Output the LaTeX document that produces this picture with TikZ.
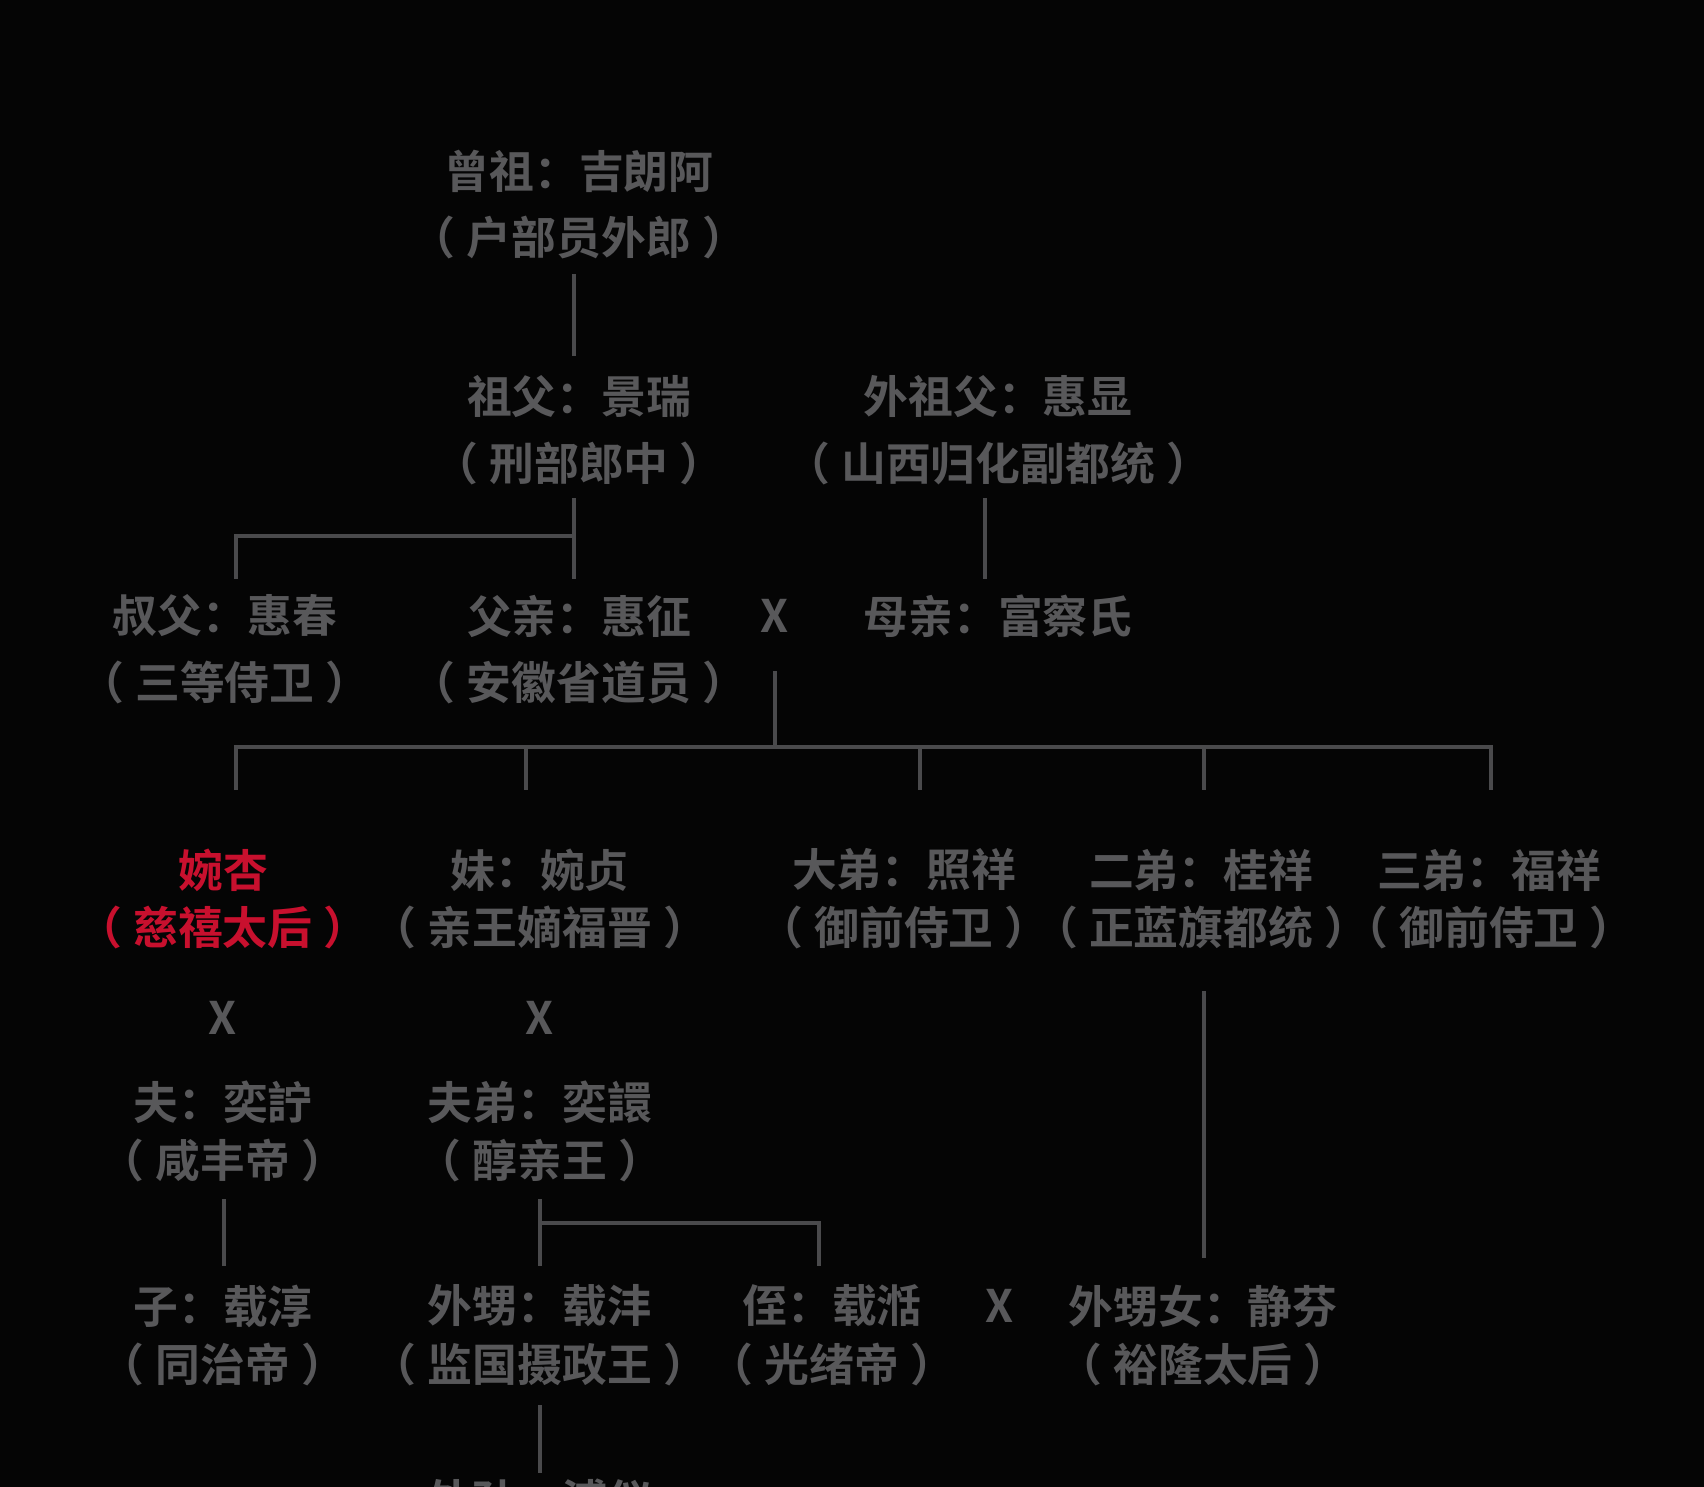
\documentclass[tikz,border=0pt]{standalone}
\usepackage{fontspec}
\setmainfont{Noto Sans CJK SC}[BoldFont={Noto Sans CJK SC Bold}]
\newfontfamily\cjk{Noto Sans CJK SC Bold}
\definecolor{bgc}{HTML}{050505}
\definecolor{txt}{HTML}{58585A}
\definecolor{ln}{HTML}{4A4A4C}
\definecolor{redc}{HTML}{C8102E}
\newcommand{\LP}{\hspace{-0.15em}（\hspace{0.25em}}
\newcommand{\RP}{\hspace{0.25em}）\hspace{-0.15em}}
\begin{document}
\begin{tikzpicture}[x=0.02cm,y=-0.02cm,
  t/.style={text=txt,font=\cjk\fontsize{25.5pt}{31pt}\selectfont,align=center,inner sep=0},
  cn/.style={draw=ln,line width=2.2pt}]
\fill[bgc] (0,0) rectangle (1704,1487);
\useasboundingbox (0,0) rectangle (1704,1487);
\clip (0,0) rectangle (1704,1487);
% rows
\node[t] (zz1) at (579,171) {曾祖：吉朗阿};
\node[t] (zz2) at (579,237) {\LP 户部员外郎\RP};
\node[t] (zf1) at (579,397) {祖父：景瑞};
\node[t] (zf2) at (579,463) {\LP 刑部郎中\RP};
\node[t] (wz1) at (998,397) {外祖父：惠显};
\node[t] (wz2) at (998,463) {\LP 山西归化副都统\RP};
\node[t] (sf1) at (225,616) {叔父：惠春};
\node[t] (sf2) at (225,682) {\LP 三等侍卫\RP};
\node[t] (fq1) at (579,616) {父亲：惠征};
\node[t] (fq2) at (579,682) {\LP 安徽省道员\RP};
\node[t] (x1) at (775,616) {X};
\node[t] (mq) at (998,616) {母亲：富察氏};
\node[t,text=redc] (wx1) at (223,870) {婉杏};
\node[t,text=redc] (wx2) at (223,927) {\LP 慈禧太后\RP};
\node[t] (m1) at (540,870) {妹：婉贞};
\node[t] (m2) at (540,927) {\LP 亲王嫡福晋\RP};
\node[t] (d11) at (904,870) {大弟：照祥};
\node[t] (d12) at (904,927) {\LP 御前侍卫\RP};
\node[t] (d21) at (1201,870) {二弟：桂祥};
\node[t] (d22) at (1201,927) {\LP 正蓝旗都统\RP};
\node[t] (d31) at (1489,870) {三弟：福祥};
\node[t] (d32) at (1489,927) {\LP 御前侍卫\RP};
\node[t] (x2) at (223,1018) {X};
\node[t] (x3) at (540,1018) {X};
\node[t] (f1) at (223,1102) {夫：奕詝};
\node[t] (f2) at (223,1160) {\LP 咸丰帝\RP};
\node[t] (fd1) at (540,1102) {夫弟：奕譞};
\node[t] (fd2) at (540,1160) {\LP 醇亲王\RP};
\node[t] (z1) at (223,1306) {子：载淳};
\node[t] (z2) at (223,1364) {\LP 同治帝\RP};
\node[t] (ws1) at (540,1306) {外甥：载沣};
\node[t] (ws2) at (540,1364) {\LP 监国摄政王\RP};
\node[t] (zh1) at (832,1306) {侄：载湉};
\node[t] (zh2) at (832,1364) {\LP 光绪帝\RP};
\node[t] (x4) at (1000,1306) {X};
\node[t] (wn1) at (1203,1306) {外甥女：静芬};
\node[t] (wn2) at (1203,1364) {\LP 裕隆太后\RP};
\node[t] (wsun) at (540,1500) {外孙：溥仪};
% connectors
\coordinate (b1) at (574,536);
\coordinate (b2) at (236,536);
\draw[cn] (574,274) -- (574,356);
\draw[cn] (574,498) -- (574,579);
\draw[cn] (b1) -- (b2) -- (236,579);
\draw[cn] (985,498) -- (985,579);
\draw[cn] (775,671) -- (775,747);
\draw[cn] (236,790) -- (236,747) -- (1491,747) -- (1491,790);
\foreach \xx in {526,920,1204} \draw[cn] (\xx,747) -- (\xx,790);
\draw[cn] (1204,991) -- (1204,1258);
\draw[cn] (224,1199) -- (224,1266);
\draw[cn] (540,1199) -- (540,1266);
\draw[cn] (540,1223) -- (819,1223) -- (819,1266);
\draw[cn] (540,1405) -- (540,1473);
\end{tikzpicture}
\end{document}
